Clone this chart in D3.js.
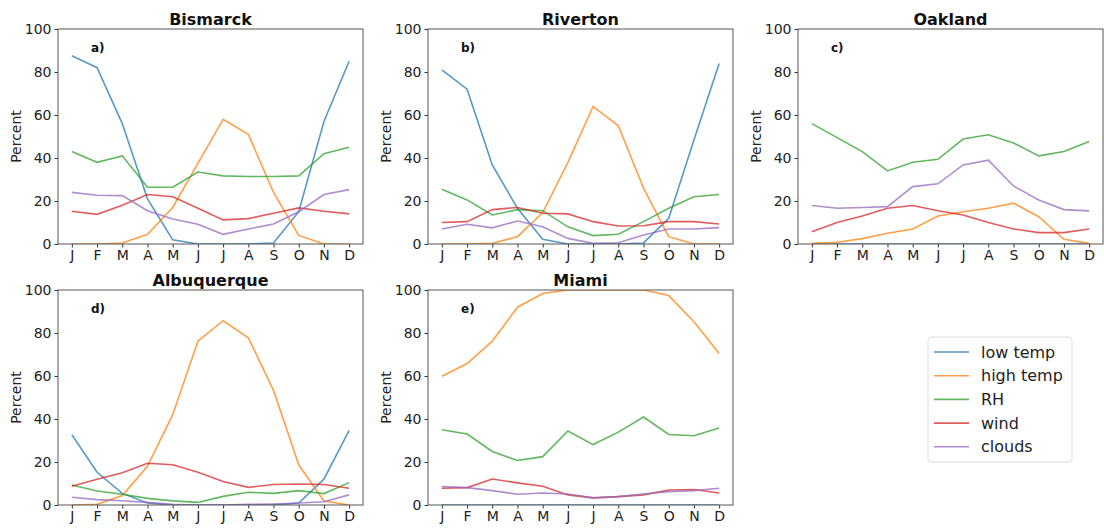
<!DOCTYPE html>
<html>
<head>
<meta charset="utf-8">
<script src="https://cdn.jsdelivr.net/npm/d3@7"></script>
<style>
    body { margin: 0; background: #fff; }
    svg { font-family: "DejaVu Sans", sans-serif; }
</style>
</head>
<body>
<div id="chart"></div>
<script>
// Month tick labels and series names
const months = ["J", "F", "M", "A", "M", "J", "J", "A", "S", "O", "N", "D"];
const seriesNames = ["low temp", "high temp", "RH", "wind", "clouds"];
const yTicks = [0, 20, 40, 60, 80, 100];

// Percent values per city, one row per series (low temp, high temp, RH, wind, clouds)
const bismarck = [
    [87.6, 82, 56, 21, 2, 0, 0, 0, 0.5, 15, 57, 85],
    [0, 0, 0.5, 4.5, 17, 37.5, 58, 51, 24, 4, 0, 0],
    [43, 38, 41, 26.4, 26.4, 33.5, 31.7, 31.4, 31.4, 31.7, 42, 45],
    [15.2, 13.8, 18, 23, 22, 16.6, 11.2, 11.8, 14.3, 16.8, 15.2, 14],
    [24, 22.7, 22.5, 15.5, 11.6, 9.2, 4.5, 7, 9.3, 15, 23, 25.3]
];
const riverton = [
    [81, 72, 36.8, 16.6, 2.2, 0, 0, 0, 0.5, 12, 48.4, 84],
    [0, 0, 0.3, 3.4, 14.6, 38, 64, 55, 26, 3.4, 0, 0],
    [25.5, 20.5, 13.5, 16, 15.5, 8, 3.9, 4.5, 10.4, 16.6, 22, 23],
    [10, 10.4, 16, 17, 14.3, 14, 10.4, 8.4, 8.5, 10.4, 10.4, 9.3],
    [7, 9.2, 7.5, 10.7, 8, 2.6, 0.3, 0.6, 4.2, 7, 7, 7.6]
];
const oakland = [
    [0, 0, 0, 0, 0, 0, 0, 0, 0, 0, 0, 0],
    [0.3, 0.8, 2.5, 5, 7, 13, 15, 16.6, 19, 12.7, 2.2, 0.3],
    [56, 49.5, 43, 34, 38, 39.4, 48.8, 50.8, 47, 41, 43, 47.7],
    [5.7, 10, 13, 16.6, 17.9, 15.5, 13.5, 10, 7, 5.3, 5.3, 7],
    [17.9, 16.6, 17, 17.4, 26.7, 28, 36.8, 39, 27, 20.5, 16, 15.4]
];
const albuquerque = [
    [32.7, 15.2, 5.4, 0.9, 0, 0, 0, 0, 0, 0.9, 12, 34.7],
    [0, 0.3, 4.4, 18, 42, 76.2, 85.7, 77.8, 53.3, 18.7, 1.9, 0],
    [9.3, 6.5, 5, 3.1, 1.9, 1.2, 4, 5.9, 5.4, 6.7, 5.3, 10.4],
    [8.7, 12, 15, 19.4, 18.7, 15.2, 10.9, 8.2, 9.5, 9.8, 9.5, 7.8],
    [3.6, 2.5, 2, 1.2, 0.3, 0, 0, 0.3, 0.5, 0.9, 1.5, 4.7]
];
const miami = [
    [0, 0, 0, 0, 0, 0, 0, 0, 0, 0, 0, 0],
    [59.9, 65.8, 76.2, 92, 98.4, 100, 100, 100, 100, 97.4, 85.2, 70.5],
    [35, 33, 24.9, 20.7, 22.5, 34.4, 28.1, 33.9, 40.9, 32.8, 32.2, 35.8],
    [7.8, 8.1, 12.1, 10.3, 8.7, 4.7, 3.3, 3.9, 4.7, 7, 7.2, 5.6],
    [8.6, 8.1, 6.7, 5, 5.6, 5.1, 3.3, 3.9, 5.1, 6.2, 6.7, 7.8]
];

const colors = ["#1f77b4", "#ff7f0e", "#2ca02c", "#d62728", "#9467bd"];

const panels = [
    { title: "Bismarck", tag: "a)", data: bismarck, left: 58, top: 29 },
    { title: "Riverton", tag: "b)", data: riverton, left: 428, top: 29 },
    { title: "Oakland", tag: "c)", data: oakland, left: 798, top: 29 },
    { title: "Albuquerque", tag: "d)", data: albuquerque, left: 58, top: 290 },
    { title: "Miami", tag: "e)", data: miami, left: 428, top: 290 }
];

const W = 1104, H = 529;
const pw = 305, ph = 215;

const svg = d3.select("#chart").append("svg")
    .attr("width", W)
    .attr("height", H);

// x scale with matplotlib-like 5% margins
const pad = 11 * 0.05;
const x = d3.scaleLinear().domain([-pad, 11 + pad]).range([0, pw]);
const y = d3.scaleLinear().domain([0, 100]).range([ph, 0]);

const line = d3.line()
    .x((d, i) => x(i))
    .y(d => y(d));

panels.forEach(p => {
    const g = svg.append("g")
        .attr("transform", "translate(" + p.left + "," + p.top + ")");

    // clip so values at 100 sit on the top spine like matplotlib
    const clipId = "clip-" + p.title;
    g.append("clipPath").attr("id", clipId)
        .append("rect").attr("width", pw).attr("height", ph);

    const lines = g.append("g").attr("clip-path", "url(#" + clipId + ")");
    p.data.forEach((vals, s) => {
        lines.append("path")
            .datum(vals)
            .attr("d", line)
            .attr("fill", "none")
            .attr("stroke", colors[s])
            .attr("stroke-opacity", 0.75)
            .attr("stroke-width", 1.6);
    });

    // axes
    const xAxis = d3.axisBottom(x)
        .tickValues(d3.range(12))
        .tickFormat(i => months[i])
        .tickSize(3.5)
        .tickPadding(3);
    const yAxis = d3.axisLeft(y)
        .tickValues(yTicks)
        .tickSize(3.5)
        .tickPadding(3);

    const gx = g.append("g")
        .attr("transform", "translate(0," + ph + ")")
        .call(xAxis);
    const gy = g.append("g").call(yAxis);

    [gx, gy].forEach(a => {
        a.select(".domain").remove();
        a.selectAll("line").attr("stroke", "#333");
        a.selectAll("text")
            .attr("fill", "#222")
            .style("font-size", "14px")
            .style("font-family", "DejaVu Sans, sans-serif");
    });

    // frame
    g.append("rect")
        .attr("width", pw)
        .attr("height", ph)
        .attr("fill", "none")
        .attr("stroke", "#555")
        .attr("stroke-width", 1);

    // title
    g.append("text")
        .attr("x", pw / 2)
        .attr("y", -4)
        .style("text-anchor", "middle")
        .style("font-size", "16px")
        .style("font-weight", "bold")
        .attr("fill", "#111")
        .text(p.title);

    // panel tag
    g.append("text")
        .attr("x", 33)
        .attr("y", 23)
        .style("font-size", "12px")
        .style("font-weight", "bold")
        .attr("fill", "#111")
        .text(p.tag);

    // y label
    g.append("text")
        .attr("transform", "rotate(-90)")
        .attr("x", -ph / 2)
        .attr("y", -37)
        .style("text-anchor", "middle")
        .style("font-size", "14px")
        .attr("fill", "#222")
        .text("Percent");
});

// legend
const legend = svg.append("g")
    .attr("transform", "translate(928,337)");

legend.append("rect")
    .attr("width", 144)
    .attr("height", 125)
    .attr("rx", 3)
    .attr("fill", "#fff")
    .attr("stroke", "#ddd");

seriesNames.forEach((name, i) => {
    const ly = 15 + i * 23.7;
    legend.append("line")
        .attr("x1", 6).attr("x2", 41)
        .attr("y1", ly).attr("y2", ly)
        .attr("stroke", colors[i])
        .attr("stroke-opacity", 0.75)
        .attr("stroke-width", 1.6);
    legend.append("text")
        .attr("x", 53)
        .attr("y", ly)
        .attr("dy", "0.35em")
        .style("font-size", "16px")
        .attr("fill", "#222")
        .text(name);
});
</script>
</body>
</html>
